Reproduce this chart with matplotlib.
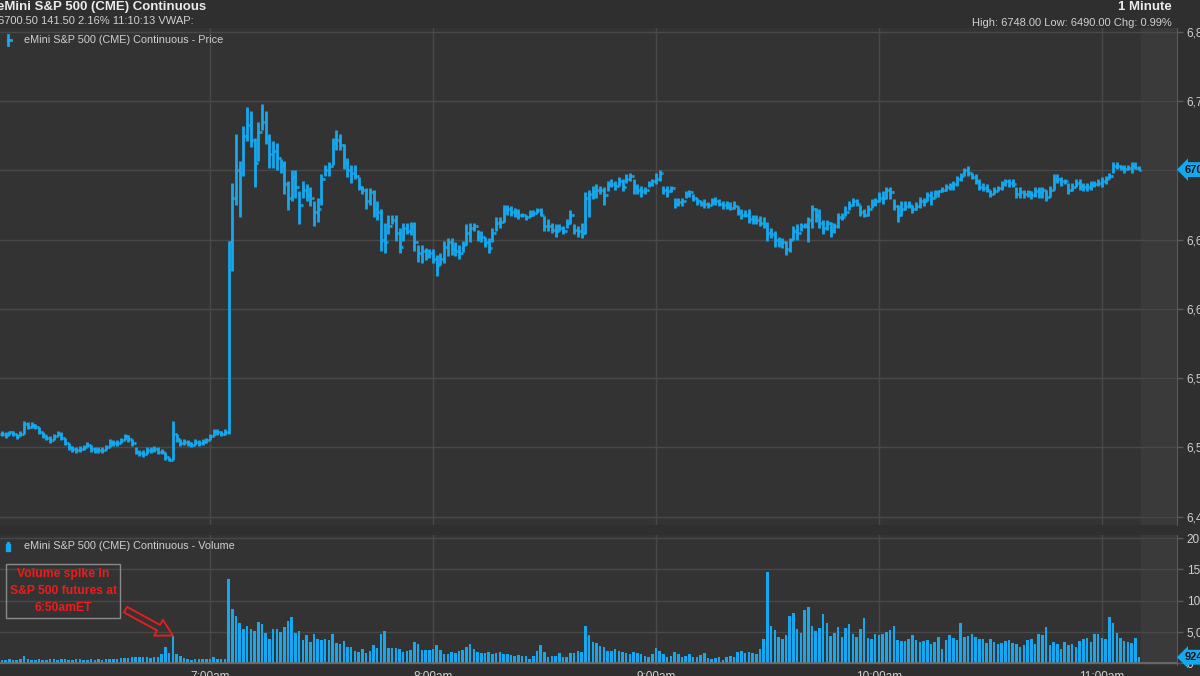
import numpy as np
import matplotlib
matplotlib.use("Agg")
import matplotlib.pyplot as plt
from matplotlib.collections import LineCollection
from matplotlib.patches import Rectangle
from matplotlib.lines import Line2D

plt.rcParams['font.family'] = ['Liberation Sans', 'DejaVu Sans']

# ---- data: 1-minute eMini S&P 500 bars, 6:04am .. 11:10am ET ----
first_minute = 6 * 60 + 4          # 6:04am, minutes after midnight

closes = [
    6510, 6509, 6511, 6510, 6508, 6510, 6517, 6515, 6516, 6515,
    6511, 6509, 6507, 6505, 6508, 6510, 6507, 6503, 6500, 6499,
    6498, 6499, 6500, 6502, 6499, 6498, 6498, 6498, 6500, 6504,
    6503, 6503, 6505, 6508, 6506, 6503, 6497, 6496, 6495, 6498,
    6498, 6499, 6497, 6497, 6493, 6491, 6510, 6506, 6503, 6504,
    6503, 6502, 6504, 6503, 6504, 6505, 6508, 6511, 6511, 6510,
    6511, 6648, 6680, 6700, 6698, 6725, 6733, 6722, 6705, 6728,
    6735, 6724, 6712, 6714, 6709, 6704, 6690, 6680, 6695, 6688,
    6675, 6686, 6682, 6680, 6670, 6672, 6694, 6700, 6703, 6720,
    6722, 6718, 6705, 6700, 6698, 6696, 6688, 6686, 6678, 6684,
    6672, 6670, 6650, 6648, 6660, 6664, 6655, 6645, 6658, 6656,
    6660, 6648, 6640, 6642, 6638, 6640, 6636, 6632, 6636, 6645,
    6648, 6643, 6642, 6640, 6646, 6655, 6658, 6660, 6652, 6652,
    6648, 6644, 6655, 6662, 6663, 6672, 6672, 6670, 6670, 6668,
    6668, 6666, 6668, 6669, 6671, 6668, 6660, 6660, 6657, 6656,
    6658, 6656, 6662, 6668, 6657, 6656, 6655, 6680, 6683, 6684,
    6686, 6686, 6682, 6690, 6690, 6689, 6692, 6688, 6694, 6696,
    6688, 6686, 6685, 6686, 6690, 6692, 6694, 6698, 6686, 6685,
    6687, 6676, 6677, 6678, 6683, 6684, 6680, 6678, 6676, 6676,
    6675, 6678, 6678, 6676, 6675, 6674, 6673, 6674, 6670, 6668,
    6668, 6665, 6664, 6664, 6662, 6660, 6655, 6654, 6650, 6648,
    6648, 6643, 6650, 6656, 6655, 6660, 6660, 6664, 6672, 6668,
    6662, 6658, 6662, 6656, 6660, 6666, 6666, 6670, 6675, 6678,
    6676, 6670, 6668, 6672, 6676, 6678, 6680, 6680, 6686, 6684,
    6674, 6668, 6672, 6674, 6675, 6672, 6674, 6678, 6678, 6682,
    6680, 6684, 6685, 6686, 6688, 6689, 6690, 6694, 6696, 6700,
    6698, 6695, 6692, 6688, 6687, 6686, 6683, 6685, 6687, 6690,
    6692, 6691, 6690, 6683, 6684, 6683, 6684, 6682, 6685, 6684,
    6686, 6681, 6686, 6694, 6694, 6692, 6692, 6686, 6688, 6691,
    6689, 6688, 6688, 6690, 6690, 6691, 6692, 6694, 6696, 6703,
    6703, 6702, 6701, 6702, 6703, 6702, 6700.5,
]

highs = [
    6512, 6511, 6512, 6512, 6510, 6512, 6519, 6518, 6518, 6517,
    6515, 6511, 6509, 6508, 6510, 6512, 6511, 6507, 6503, 6501,
    6500, 6501, 6502, 6504, 6502, 6500, 6500, 6500, 6502, 6506,
    6505, 6505, 6507, 6510, 6509, 6506, 6500, 6498, 6498, 6500,
    6500, 6501, 6500, 6499, 6497, 6493, 6519, 6510, 6506, 6506,
    6505, 6504, 6506, 6505, 6506, 6507, 6510, 6513, 6513, 6512,
    6513, 6649, 6691, 6726, 6707, 6732, 6746, 6743, 6723, 6735,
    6748, 6743, 6726, 6721, 6720, 6708, 6707, 6692, 6700, 6700,
    6685, 6692, 6690, 6688, 6678, 6680, 6697, 6704, 6706, 6723,
    6729, 6726, 6719, 6709, 6704, 6704, 6695, 6689, 6687, 6687,
    6686, 6678, 6672, 6662, 6668, 6668, 6668, 6658, 6662, 6662,
    6663, 6663, 6646, 6646, 6644, 6643, 6643, 6639, 6640, 6649,
    6651, 6651, 6648, 6646, 6649, 6661, 6662, 6662, 6657, 6656,
    6652, 6651, 6658, 6666, 6666, 6675, 6675, 6674, 6673, 6672,
    6669, 6668, 6671, 6671, 6673, 6673, 6667, 6665, 6662, 6661,
    6661, 6660, 6665, 6671, 6661, 6660, 6662, 6684, 6686, 6689,
    6690, 6689, 6688, 6692, 6694, 6692, 6695, 6694, 6697, 6698,
    6694, 6690, 6689, 6688, 6692, 6694, 6698, 6700, 6689, 6689,
    6689, 6680, 6680, 6680, 6685, 6686, 6683, 6680, 6678, 6679,
    6677, 6680, 6681, 6679, 6678, 6678, 6677, 6678, 6674, 6672,
    6671, 6672, 6668, 6668, 6667, 6666, 6663, 6658, 6656, 6652,
    6651, 6649, 6651, 6660, 6661, 6662, 6662, 6666, 6675, 6673,
    6672, 6664, 6664, 6663, 6662, 6669, 6669, 6674, 6678, 6680,
    6679, 6675, 6672, 6675, 6679, 6680, 6684, 6685, 6688, 6688,
    6679, 6675, 6678, 6678, 6678, 6675, 6677, 6681, 6680, 6684,
    6685, 6686, 6686, 6688, 6690, 6691, 6692, 6696, 6698, 6702,
    6703, 6698, 6697, 6694, 6691, 6690, 6686, 6688, 6689, 6692,
    6694, 6694, 6694, 6688, 6688, 6686, 6686, 6685, 6688, 6688,
    6688, 6686, 6689, 6697, 6697, 6695, 6694, 6691, 6691, 6694,
    6694, 6691, 6691, 6692, 6692, 6694, 6695, 6696, 6698, 6706,
    6706, 6704, 6704, 6704, 6706, 6706, 6703,
]

lows = [
    6508, 6507, 6509, 6508, 6506, 6508, 6510, 6513, 6514, 6513,
    6510, 6507, 6505, 6503, 6505, 6508, 6505, 6502, 6498, 6497,
    6496, 6497, 6498, 6500, 6497, 6496, 6496, 6496, 6498, 6500,
    6501, 6501, 6503, 6505, 6504, 6501, 6495, 6494, 6493, 6495,
    6496, 6497, 6495, 6495, 6491, 6490, 6491, 6504, 6501, 6502,
    6501, 6500, 6502, 6501, 6502, 6503, 6505, 6508, 6509, 6508,
    6509, 6510, 6627, 6675, 6666, 6696, 6721, 6717, 6688, 6707,
    6729, 6719, 6702, 6702, 6700, 6698, 6683, 6671, 6678, 6680,
    6661, 6680, 6678, 6674, 6660, 6663, 6675, 6696, 6696, 6704,
    6715, 6715, 6701, 6695, 6691, 6694, 6686, 6683, 6672, 6675,
    6666, 6664, 6642, 6640, 6654, 6661, 6649, 6640, 6649, 6654,
    6653, 6642, 6634, 6633, 6635, 6637, 6633, 6624, 6632, 6633,
    6638, 6639, 6638, 6636, 6641, 6646, 6648, 6656, 6649, 6648,
    6645, 6640, 6648, 6656, 6658, 6663, 6668, 6667, 6666, 6665,
    6666, 6664, 6666, 6667, 6669, 6667, 6656, 6656, 6655, 6652,
    6656, 6654, 6658, 6661, 6654, 6652, 6651, 6654, 6666, 6679,
    6680, 6683, 6675, 6685, 6688, 6686, 6689, 6685, 6691, 6692,
    6683, 6683, 6681, 6683, 6688, 6689, 6690, 6692, 6683, 6681,
    6684, 6673, 6674, 6674, 6680, 6681, 6678, 6675, 6674, 6673,
    6673, 6675, 6675, 6674, 6672, 6672, 6671, 6672, 6668, 6665,
    6666, 6662, 6661, 6661, 6660, 6658, 6649, 6651, 6645, 6645,
    6644, 6639, 6641, 6650, 6650, 6656, 6658, 6648, 6658, 6663,
    6658, 6654, 6657, 6652, 6655, 6658, 6664, 6667, 6671, 6674,
    6674, 6667, 6666, 6667, 6673, 6674, 6677, 6676, 6679, 6679,
    6671, 6663, 6667, 6671, 6673, 6669, 6671, 6673, 6674, 6678,
    6675, 6680, 6681, 6684, 6685, 6686, 6686, 6689, 6692, 6696,
    6696, 6694, 6690, 6686, 6685, 6684, 6681, 6683, 6685, 6686,
    6689, 6688, 6688, 6680, 6680, 6680, 6681, 6679, 6681, 6680,
    6680, 6678, 6681, 6686, 6691, 6689, 6690, 6683, 6685, 6688,
    6686, 6685, 6685, 6686, 6688, 6689, 6688, 6690, 6694, 6698,
    6701, 6700, 6698, 6700, 6698, 6701, 6700,
]

volumes = [
    520, 480, 610, 450, 560, 700, 1100, 650, 540, 500,
    620, 480, 560, 720, 600, 510, 640, 580, 470, 530,
    610, 690, 540, 480, 650, 560, 600, 520, 580, 640,
    700, 620, 760, 810, 880, 950, 1000, 940, 1020, 980,
    850, 900, 1000, 1500, 2600, 1600, 4400, 1500, 1100, 800,
    650, 560, 600, 640, 700, 620, 580, 960, 700, 650,
    680, 13500, 8700, 7600, 6400, 5450, 5900, 5400, 5200, 6600,
    6300, 4850, 3900, 5450, 5450, 4950, 5750, 6650, 7350, 4850,
    5100, 3640, 4450, 3370, 4700, 3900, 3750, 3900, 3640, 4700,
    3200, 3000, 3500, 2550, 2550, 2000, 1740, 2280, 1580, 2000,
    2820, 2440, 4700, 5160, 2440, 2440, 2440, 2280, 1740, 2000,
    2120, 3370, 3100, 2120, 2120, 2120, 2180, 2820, 2120, 1470,
    1470, 1740, 1580, 2000, 2120, 2550, 3000, 2280, 1740, 1630,
    1580, 1740, 1470, 1580, 1740, 1470, 1470, 1300, 1200, 1300,
    1200, 1200, 650, 1200, 2000, 2820, 1740, 1030, 1200, 1200,
    1580, 1030, 920, 1580, 1630, 1900, 1740, 5900, 4450, 3370,
    3200, 2660, 2550, 2000, 1900, 2280, 1900, 1740, 1580, 1470,
    1740, 1580, 1470, 1200, 1030, 1470, 2440, 1900, 1470, 1030,
    1200, 1740, 1470, 1030, 1200, 1470, 920, 1030, 1360, 1580,
    810, 650, 810, 1030, 500, 920, 1200, 1030, 1740, 2000,
    1580, 1740, 1580, 1470, 2280, 3900, 14500, 6000, 5300, 4200,
    3800, 4500, 7500, 8000, 5500, 4800, 8500, 9000, 6000, 5200,
    5600, 7800, 6400, 4400, 4800, 5800, 4200, 5600, 6200, 4600,
    4200, 5500, 7200, 4000, 3800, 4700, 4450, 4700, 5000, 5270,
    5900, 3640, 3500, 3500, 3900, 4450, 3640, 3370, 3500, 3750,
    3000, 3370, 4180, 2280, 3640, 4450, 4070, 3640, 6350, 4180,
    4290, 4700, 4180, 3900, 3900, 3200, 3900, 3370, 3100, 3200,
    3500, 3750, 3200, 3000, 2550, 2820, 3640, 3900, 3100, 4700,
    4450, 5800, 2820, 3370, 3100, 2280, 3370, 2820, 3000, 2550,
    3500, 3900, 4070, 3370, 4700, 4700, 4000, 3900, 7400, 6400,
    4800, 4000, 3500, 3300, 3200, 4000, 924,
]

price_ticks = [6450, 6500, 6550, 6600, 6650, 6700, 6750, 6800]
volume_ticks = [0, 5000, 10000, 15000, 20000]
hour_ticks = [420, 480, 540, 600, 660]
hour_labels = ["7:00am", "8:00am", "9:00am", "10:00am", "11:00am"]

title = "eMini S&P 500 (CME) Continuous"
quote_line = "6700.50 141.50 2.16% 11:10:13 VWAP:"
interval_label = "1 Minute"
range_line = "High: 6748.00 Low: 6490.00 Chg: 0.99%"
last_price_label = "6700.50"
last_volume_label = "924"
note = "Volume spike in\nS&P 500 futures at\n6:50amET"
spike_index = 46

# ---- style ----
BG = "#2f2f2f"
PANEL = "#333333"
SHADE = "#3a3a3a"
GRID = "#484848"
TEXT = "#d0d0d0"
BLUE = "#15a8ee"

W, H = 1200, 676

assert len(closes) == len(highs) == len(lows) == len(volumes)
n = len(closes)
minutes = np.arange(first_minute, first_minute + n)
opens = [closes[0]] + closes[:-1]


def fx(px):
    return px / W


def fy(py):
    return 1 - py / H


fig = plt.figure(figsize=(W / 100, H / 100), dpi=100, facecolor=BG)
ax_p = fig.add_axes([0, fy(525), fx(1177), (525 - 28) / H])
ax_v = fig.add_axes([0, fy(665), fx(1177), (665 - 535) / H])

x_lo, x_hi = 363.5, 680.2
last_edge = minutes[-1] + 0.45

for ax in (ax_p, ax_v):
    ax.set_facecolor(PANEL)
    ax.set_xlim(x_lo, x_hi)
    ax.axvspan(last_edge, x_hi, color=SHADE, zorder=0)
    for s in ("top", "left", "bottom"):
        ax.spines[s].set_visible(False)
    ax.spines["right"].set_color("#5a5a5a")
    ax.yaxis.tick_right()
    ax.tick_params(axis="y", colors="#5a5a5a", labelcolor=TEXT, length=4,
                   width=1, labelsize=8.5, pad=3)
    ax.set_xticks(hour_ticks)
    ax.grid(True, color=GRID, linewidth=1)
    ax.set_axisbelow(True)

# price panel (OHLC bars)
ax_p.set_ylim(6444.0, 6802.7)
ax_p.set_yticks(price_ticks)
ax_p.set_yticklabels([f"{v:,}" for v in price_ticks])
ax_p.tick_params(axis="x", length=0, labelbottom=False)

segs = []
for t, o, h, l, c in zip(minutes, opens, highs, lows, closes):
    segs.append([(t, l), (t, h)])
    segs.append([(t - 0.5, o), (t, o)])
    segs.append([(t, c), (t + 0.5, c)])
ax_p.add_collection(LineCollection(segs, colors=BLUE, linewidths=2.0,
                                   capstyle="butt", zorder=3))

# volume panel
ax_v.set_ylim(-320, 20480)
ax_v.set_yticks(volume_ticks)
ax_v.set_yticklabels([f"{v:,}" for v in volume_ticks])
ax_v.bar(minutes, volumes, width=0.68, color=BLUE, linewidth=0, zorder=3)
ax_v.axhline(0, color="#6e6e6e", linewidth=1.2, zorder=4)
ax_v.set_xticklabels(hour_labels)
ax_v.tick_params(axis="x", length=0, labelcolor=TEXT, labelsize=8.5, pad=4)

# last value flags on the right scale
flag = dict(boxstyle="larrow,pad=0.22", fc=BLUE, ec="none")
ax_p.annotate(last_price_label, xy=(1, closes[-1]),
              xycoords=("axes fraction", "data"), xytext=(8, 0),
              textcoords="offset pixels", va="center", ha="left",
              fontsize=8, fontweight="bold", color="#151515", bbox=flag,
              annotation_clip=False)
ax_v.annotate(last_volume_label, xy=(1, volumes[-1]),
              xycoords=("axes fraction", "data"), xytext=(8, 0),
              textcoords="offset pixels", va="center", ha="left",
              fontsize=8, fontweight="bold", color="#151515", bbox=flag,
              annotation_clip=False)

# header
fig.text(fx(-3), fy(7), title, color="#ececec", fontsize=9.5,
         fontweight="bold", va="center", ha="left")
fig.text(fx(-2), fy(21), quote_line, color=TEXT, fontsize=8, va="center",
         ha="left")
fig.text(fx(1172), fy(7), interval_label, color="#ececec", fontsize=9.5,
         fontweight="bold", va="center", ha="right")
fig.text(fx(1172), fy(23), range_line, color=TEXT, fontsize=8,
         va="center", ha="right")

# series legends
fig.add_artist(Line2D([fx(7.5), fx(7.5)], [fy(35), fy(45)], color=BLUE,
                      linewidth=2))
fig.add_artist(Line2D([fx(7.5), fx(11)], [fy(40), fy(40)], color=BLUE,
                      linewidth=2))
fig.text(fx(24), fy(40), "eMini S&P 500 (CME) Continuous - Price",
         color=TEXT, fontsize=7.8, va="center", ha="left")
fig.add_artist(Rectangle((fx(6), fy(551)), fx(4), 7 / H, color=BLUE))
fig.add_artist(Rectangle((fx(7), fy(544)), fx(2), 2 / H, color=BLUE))
fig.text(fx(24), fy(546), "eMini S&P 500 (CME) Continuous - Volume",
         color=TEXT, fontsize=7.8, va="center", ha="left")

# annotation of the 6:50am spike
ax_v.annotate(note, xy=(minutes[spike_index], volumes[spike_index]),
              xycoords="data", xytext=(fx(63), fy(591)),
              textcoords="figure fraction", ha="center", va="center",
              color="#ee1c1c", fontsize=8.7, fontweight="bold",
              linespacing=1.55,
              bbox=dict(boxstyle="square,pad=0.3", fc="none",
                        ec="#8a8a8a", lw=1),
              arrowprops=dict(arrowstyle="simple,head_length=0.9,"
                              "head_width=1.0,tail_width=0.35",
                              fc="none", ec="#ee1c1c", lw=1.3,
                              mutation_scale=13, relpos=(1.0, 0.2),
                              shrinkA=4, shrinkB=0),
              annotation_clip=False, zorder=6)

fig.savefig("out.png", dpi=100, facecolor=BG)
